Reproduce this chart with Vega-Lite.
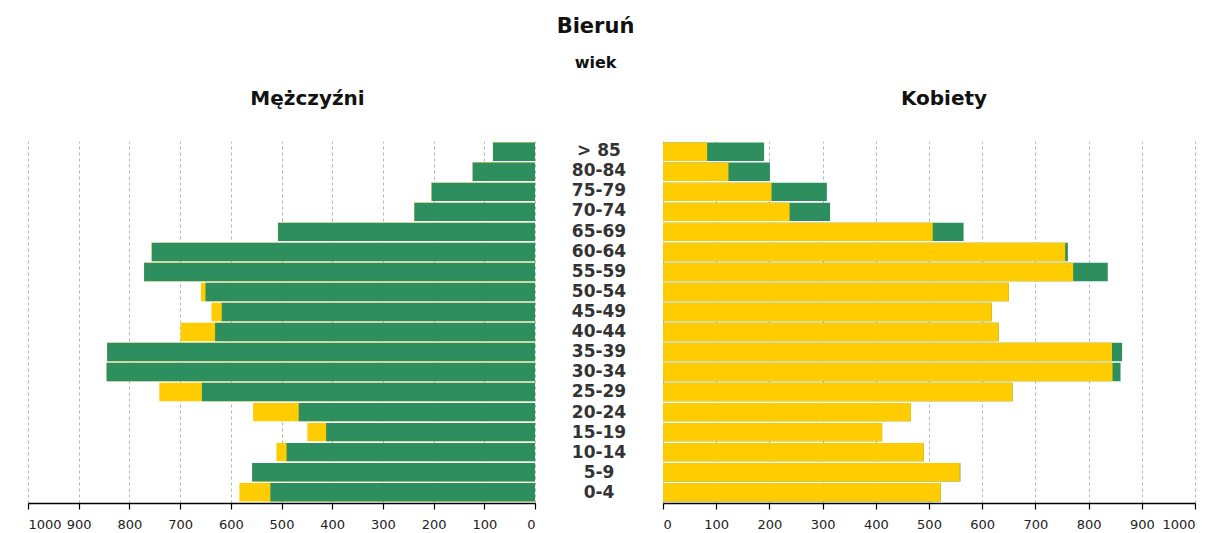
{
  "$schema": "https://vega.github.io/schema/vega-lite/v6.json",
  "background": "white",
  "padding": {"left": 27, "right": 5, "top": 16, "bottom": 5},
  "title": {
    "text": "Bieruń",
    "subtitle": "wiek",
    "anchor": "middle",
    "dx": -16,
    "font": "DejaVu Sans",
    "fontSize": 21,
    "fontWeight": "bold",
    "color": "#111111",
    "subtitleFont": "DejaVu Sans",
    "subtitleFontSize": 16,
    "subtitleFontWeight": "bold",
    "subtitleColor": "#111111",
    "subtitlePadding": 18,
    "offset": 18
  },
  "data": {
    "values": [
      {"age": "> 85", "men": 83, "women": 190, "both": 83},
      {"age": "80-84", "men": 123, "women": 201, "both": 123},
      {"age": "75-79", "men": 204, "women": 308, "both": 204},
      {"age": "70-74", "men": 238, "women": 314, "both": 238},
      {"age": "65-69", "men": 507, "women": 565, "both": 507},
      {"age": "60-64", "men": 756, "women": 761, "both": 756},
      {"age": "55-59", "men": 771, "women": 836, "both": 771},
      {"age": "50-54", "men": 659, "women": 650, "both": 650},
      {"age": "45-49", "men": 638, "women": 618, "both": 618},
      {"age": "40-44", "men": 699, "women": 631, "both": 631},
      {"age": "35-39", "men": 844, "women": 863, "both": 844},
      {"age": "30-34", "men": 845, "women": 860, "both": 845},
      {"age": "25-29", "men": 741, "women": 657, "both": 657},
      {"age": "20-24", "men": 556, "women": 466, "both": 466},
      {"age": "15-19", "men": 449, "women": 412, "both": 412},
      {"age": "10-14", "men": 510, "women": 490, "both": 490},
      {"age": "5-9", "men": 558, "women": 559, "both": 558},
      {"age": "0-4", "men": 583, "women": 522, "both": 522}
    ]
  },
  "spacing": 0,
  "bounds": "flush",
  "hconcat": [
    {
      "width": 507,
      "height": 362,
      "title": {"text": "Mężczyźni", "dx": 26},
      "layer": [
        {
          "mark": {"type": "bar", "color": "#ffcc00"},
          "encoding": {
            "y": {"field": "age", "type": "nominal", "sort": null, "axis": null, "scale": {"paddingInner": 0.08, "paddingOuter": 0.08}},
            "x": {"field": "men", "type": "quantitative", "scale": {"domain": [0, 1000], "reverse": true, "nice": false},
                  "axis": {"title": null, "values": [0,50,100,150,200,250,300,350,400,450,500,550,600,650,700,750,800,850,900,950,1000],
                           "labelExpr": "datum.value % 100 === 0 ? datum.label : ''",
                           "labelFontSize": 13, "labelOverlap": false,
                           "tickOpacity": {"condition": {"test": "datum.value % 100 === 0", "value": 1}, "value": 0}}}
          }
        },
        {
          "mark": {"type": "bar", "color": "#2e8f5e"},
          "encoding": {
            "y": {"field": "age", "type": "nominal", "sort": null},
            "x": {"field": "both", "type": "quantitative"}
          }
        }
      ]
    },
    {
      "width": 128,
      "height": 362,
      "title": {"text": " "},
      "mark": {"type": "text", "font": "DejaVu Sans", "fontSize": 17, "fontWeight": "bold", "color": "#333333"},
      "encoding": {
        "y": {"field": "age", "type": "nominal", "sort": null, "axis": null, "scale": {"paddingInner": 0.08, "paddingOuter": 0.08}},
        "text": {"field": "age"}
      }
    },
    {
      "width": 532,
      "height": 362,
      "title": {"text": "Kobiety", "dx": 15},
      "layer": [
        {
          "mark": {"type": "bar", "color": "#2e8f5e"},
          "encoding": {
            "y": {"field": "age", "type": "nominal", "sort": null, "axis": null, "scale": {"paddingInner": 0.08, "paddingOuter": 0.08}},
            "x": {"field": "women", "type": "quantitative", "scale": {"domain": [0, 1000], "nice": false},
                  "axis": {"title": null, "values": [0,50,100,150,200,250,300,350,400,450,500,550,600,650,700,750,800,850,900,950,1000],
                           "labelExpr": "datum.value % 100 === 0 ? datum.label : ''",
                           "labelFontSize": 13, "labelOverlap": false,
                           "tickOpacity": {"condition": {"test": "datum.value % 100 === 0", "value": 1}, "value": 0}}}
          }
        },
        {
          "mark": {"type": "bar", "color": "#ffcc00"},
          "encoding": {
            "y": {"field": "age", "type": "nominal", "sort": null},
            "x": {"field": "both", "type": "quantitative"}
          }
        }
      ]
    }
  ],
  "config": {
    "view": {"stroke": null},
    "title": {"font": "DejaVu Sans", "fontSize": 20, "fontWeight": "bold", "color": "#111111", "offset": 32, "anchor": "middle"},
    "axis": {
      "domainColor": "#000000",
      "domainWidth": 1.5,
      "tickColor": "#000000",
      "tickSize": 6,
      "tickWidth": 1.2,
      "labelFont": "DejaVu Sans",
      "labelFontSize": 13,
      "labelColor": "#222222",
      "labelPadding": 9,
      "format": "d",
      "grid": true,
      "gridColor": "#b5b5b5",
      "gridDash": [3, 3],
      "gridWidth": 1
    }
  }
}
